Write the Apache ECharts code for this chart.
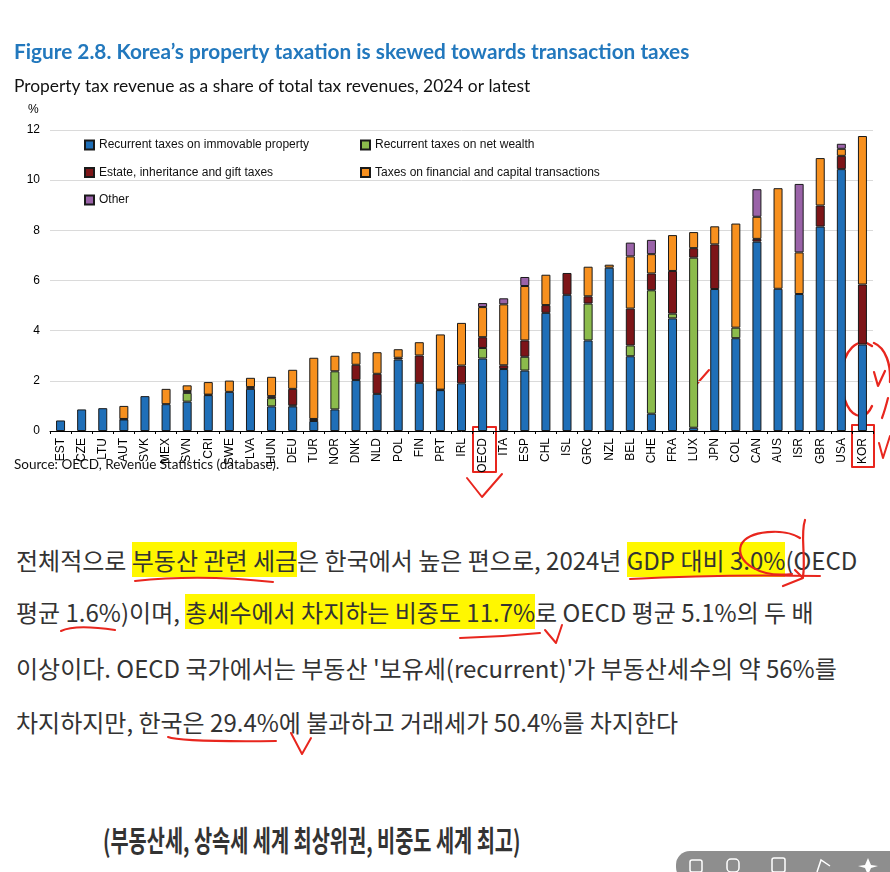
<!DOCTYPE html>
<html><head><meta charset="utf-8">
<script src="https://cdn.jsdelivr.net/npm/echarts@6/dist/echarts.min.js"></script>
<style>
html,body{margin:0;padding:0;background:#fff;width:890px;height:872px;overflow:hidden;}
#chart{position:absolute;left:0;top:0;width:890px;height:872px;z-index:2;}
.kr{position:absolute;left:16px;font-family:"Noto Sans CJK KR","Noto Sans",sans-serif;font-size:24px;line-height:32px;color:#333;white-space:nowrap;z-index:1;}
.hl{background:#fff700;}
#head{position:absolute;left:103px;top:820px;font-family:"Noto Sans CJK KR",sans-serif;font-weight:700;font-size:29px;line-height:38px;color:#333;white-space:nowrap;transform-origin:0 50%;transform:scaleX(0.68);z-index:1;}
</style>
</head><body>
<div class="kr" style="top:544px">전체적으로 <span class="hl">부동산 관련 세금</span>은 한국에서 높은 편으로, 2024년 <span class="hl">GDP 대비 3.0%</span>(OECD</div>
<div class="kr" style="top:596px">평균 1.6%)이며, <span class="hl">총세수에서 차지하는 비중도 11.7%</span>로 OECD 평균 5.1%의 두 배</div>
<div class="kr" style="top:652px">이상이다. OECD 국가에서는 부동산 '보유세(recurrent)'가 부동산세수의 약 56%를</div>
<div class="kr" style="top:706px">차지하지만, 한국은 29.4%에 불과하고 거래세가 50.4%를 차지한다</div>
<div id="head">(부동산세, 상속세 세계 최상위권, 비중도 세계 최고)</div>
<div id="chart"></div>
<script>
const categories = ['EST','CZE','LTU','AUT','SVK','MEX','SVN','CRI','SWE','LVA','HUN','DEU','TUR','NOR','DNK','NLD','POL','FIN','PRT','IRL','OECD','ITA','ESP','CHL','ISL','GRC','NZL','BEL','CHE','FRA','LUX','JPN','COL','CAN','AUS','ISR','GBR','USA','KOR'];
const recurrentImmovable = [0.42,0.86,0.91,0.46,1.39,1.07,1.17,1.43,1.56,1.68,0.98,0.98,0.40,0.86,2.03,1.48,2.85,1.92,1.63,1.90,2.89,2.47,2.41,4.71,5.43,3.61,6.51,2.98,0.69,4.49,0.13,5.66,3.70,7.55,5.67,5.46,8.15,10.44,3.45];
const netWealth          = [0,0,0,0,0,0,0.35,0,0,0,0.33,0.04,0,1.52,0,0,0,0,0,0,0.42,0,0.55,0,0,1.47,0,0.43,4.92,0.19,6.78,0,0.42,0,0,0,0,0,0];
const estateGift         = [0,0,0,0.02,0,0,0.07,0.02,0,0.07,0.08,0.66,0.08,0,0.61,0.80,0.07,1.09,0.02,0.71,0.43,0.15,0.65,0.31,0.87,0.29,0,1.47,0.67,1.70,0.38,1.78,0,0.11,0,0,0.84,0.53,2.39];
const transactions       = [0,0,0,0.52,0,0.61,0.23,0.50,0.45,0.37,0.77,0.76,2.44,0.62,0.50,0.86,0.34,0.53,2.20,1.70,1.20,2.43,2.17,1.21,0,1.18,0.12,2.08,0.77,1.43,0.64,0.72,4.15,0.88,4.01,1.66,1.89,0.28,5.92];
const other              = [0,0,0,0,0,0,0,0,0,0,0,0,0,0,0,0,0,0,0,0,0.16,0.24,0.36,0,0,0,0,0.55,0.57,0,0,0,0,1.10,0,2.73,0,0.20,0];
const yTickValues = [0,2,4,6,8,10,12];
const seriesNames = ['Recurrent taxes on immovable property','Recurrent taxes on net wealth','Estate, inheritance and gift taxes','Taxes on financial and capital transactions','Other'];
const seriesColors = ['#1f6fb8','#8cbb4c','#7d1518','#f7901e','#9a63a8'];

const chartFont = 'Liberation Sans';
const dataSets = [recurrentImmovable, netWealth, estateGift, transactions, other];
const series = dataSets.map((d,i)=>({
  name: seriesNames[i], type:'bar', stack:'total', barWidth: 9,
  data: d.map(v => v === 0 ? null : v),
  itemStyle:{color:seriesColors[i], borderColor:'#1a1a1a', borderWidth:1},
  emphasis:{disabled:true}, animation:false
}));

const red = '#e8261e';
function stroke(w){return {stroke:red, lineWidth:w||2.2, fill:null, lineCap:'round', lineJoin:'round'};}
function bz(x1,y1,c1x,c1y,c2x,c2y,x2,y2,w){
  const sh = {x1:x1,y1:y1,x2:x2,y2:y2,cpx1:c1x,cpy1:c1y};
  if (c2x !== null) { sh.cpx2 = c2x; sh.cpy2 = c2y; }
  return {type:'bezierCurve', shape:sh, style:stroke(w)};
}

const chart = echarts.init(document.getElementById('chart'), null, {renderer:'canvas'});
chart.setOption({
  backgroundColor:'transparent',
  animation:false,
  grid:{left:50, right:17, top:130, bottom:441, containLabel:false},
  legend:[
    {left:84, top:138, padding:0, orient:'vertical', itemGap:13.5, itemWidth:9, itemHeight:9, icon:'rect',
     data:[seriesNames[0], seriesNames[2], seriesNames[4]],
     textStyle:{fontSize:12, color:'#111', fontFamily:chartFont, lineHeight:14}},
    {left:360, top:138, padding:0, orient:'vertical', itemGap:13.5, itemWidth:9, itemHeight:9, icon:'rect',
     data:[seriesNames[1], seriesNames[3]],
     textStyle:{fontSize:12, color:'#111', fontFamily:chartFont, lineHeight:14}}
  ],
  xAxis:{type:'category', data:categories,
    axisLine:{lineStyle:{color:'#000', width:1}},
    axisTick:{show:true, length:3, lineStyle:{color:'#000'}},
    axisLabel:{rotate:90, interval:0, fontSize:12, color:'#000', margin:7, fontFamily:chartFont}},
  yAxis:{type:'value', min:yTickValues[0], max:yTickValues[yTickValues.length-1], interval:yTickValues[1]-yTickValues[0],
    axisLine:{show:false}, axisTick:{show:false},
    splitLine:{lineStyle:{color:'#dadada', width:1}},
    axisLabel:{fontSize:12, color:'#000', margin:10, fontFamily:chartFont}},
  series: series,
  graphic:[
    {type:'text', left:14, top:42, style:{text:'Figure 2.8. Korea’s property taxation is skewed towards transaction taxes', font:'bold 20.8px Lato', fill:'#2278bd'}},
    {type:'text', left:14, top:78, style:{text:'Property tax revenue as a share of total tax revenues, 2024 or latest', font:'17.4px Lato', fill:'#111'}},
    {type:'text', left:28, top:104, style:{text:'%', font:'12px "Liberation Sans"', fill:'#000'}},
    {type:'text', left:14, top:458, style:{text:'Source: OECD, Revenue Statistics (database).', font:'13.5px Lato', fill:'#111'}},
    // hand-drawn annotations
    {type:'rect', shape:{x:473, y:427, width:23, height:45}, style:stroke(2)},
    {type:'polyline', shape:{points:[[467,478],[482,497],[502,474]]}, style:stroke(2)},
    {type:'rect', shape:{x:852, y:425, width:22, height:42}, style:stroke(2)},
    {type:'polyline', shape:{points:[[879,443],[883,458],[890,436]]}, style:stroke(2)},
    bz(872,346, 858,336, 843,350, 842,375, 2.4),
    bz(842,375, 841,400, 850,417, 862,416, 2.4),
    bz(862,416, 868,415, null,null, 872,406, 2.4),
    bz(874,343, 886,348, 891,365, 890,382, 2.4),
    {type:'polyline', shape:{points:[[874,372],[878,386],[885,371]]}, style:stroke(2.2)},
    bz(882,418, 885,410, null,null, 888,398, 2.2),
    {type:'line', shape:{x1:695, y1:386, x2:709, y2:370}, style:stroke(2)},
    bz(135,581, 200,574, null,null, 273,582, 2),
    bz(630,579, 720,574, null,null, 820,576, 2),
    bz(800,538, 785,528, 748,530, 741,545, 2.2),
    bz(741,545, 735,562, 760,578, 792,574, 2.2),
    bz(805,520, 800,535, 806,555, 803,577, 2.2),
    {type:'polyline', shape:{points:[[783,586],[803,578],[795,570]]}, style:stroke(2.2)},
    bz(61,631, 75,624, null,null, 115,630, 2),
    bz(460,638, 500,637, null,null, 540,633, 2),
    {type:'polyline', shape:{points:[[545,630],[556,643],[562,625]]}, style:stroke(2)},
    bz(168,737, 180,742, null,null, 276,741, 2),
    {type:'polyline', shape:{points:[[291,733],[302,754],[311,738]]}, style:stroke(2)},
    // toolbar at bottom right
    {type:'rect', shape:{x:676, y:851, width:230, height:30, r:14}, style:{fill:'#8e8e8e'}},
    {type:'rect', shape:{x:690, y:860, width:12, height:12, r:2}, style:{fill:null, stroke:'#fff', lineWidth:1.5}},
    {type:'rect', shape:{x:727, y:859, width:12, height:13, r:4}, style:{fill:null, stroke:'#fff', lineWidth:1.5}},
    {type:'rect', shape:{x:772, y:858, width:13, height:14, r:2}, style:{fill:null, stroke:'#fff', lineWidth:1.5}},
    {type:'polyline', shape:{points:[[817,872],[821,860],[830,866]]}, style:{stroke:'#fff', lineWidth:1.5, fill:null}},
    {type:'polygon', shape:{points:[[868,858],[871,865],[878,866],[871,868],[868,875],[865,868],[858,866],[865,865]]}, style:{fill:'#fff'}}
  ]
});
</script>
</body></html>
